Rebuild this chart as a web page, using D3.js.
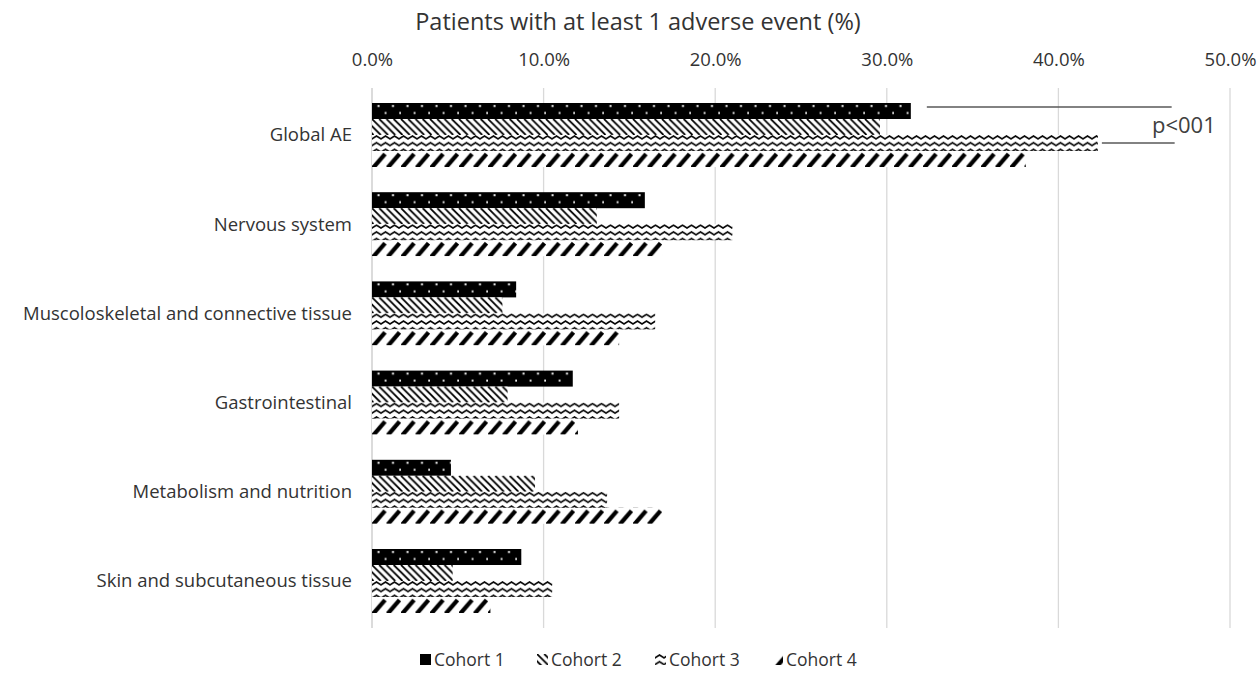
<!DOCTYPE html>
<html>
<head>
<meta charset="utf-8">
<script src="https://cdn.jsdelivr.net/npm/d3@7"></script>
<style>
  html, body { margin: 0; padding: 0; background: #fff; }
  svg { display: block; font-family: "Open Sans", "Noto Sans", sans-serif; }
</style>
</head>
<body>
<svg id="chart" width="1259" height="680"></svg>
<script>
// Adverse events by system organ class, per cohort (% of patients)
const categories = [
  "Global AE",
  "Nervous system",
  "Muscoloskeletal and connective tissue",
  "Gastrointestinal",
  "Metabolism and nutrition",
  "Skin and subcutaneous tissue"
];
const cohorts = ["Cohort 1", "Cohort 2", "Cohort 3", "Cohort 4"];
const cohort1 = [31.4, 15.9, 8.4, 11.7, 4.6, 8.7];
const cohort2 = [29.6, 13.1, 7.6, 7.9, 9.5, 4.7];
const cohort3 = [42.3, 21.0, 16.5, 14.4, 13.7, 10.5];
const cohort4 = [38.1, 16.9, 14.4, 12.0, 16.9, 6.9];
const tickValues = [0, 10, 20, 30, 40, 50];
const axisTitle = "Patients with at least 1 adverse event (%)";
const pLabel = "p<001";

const seriesValues = [cohort1, cohort2, cohort3, cohort4];
const rows = categories.map((c, i) => ({
  category: c,
  values: cohorts.map((k, j) => ({ cohort: k, idx: j, value: seriesValues[j][i] }))
}));

const svg = d3.select("#chart");
const textColor = "#333333";

// ---- scales ----
const x = d3.scaleLinear().domain([0, 50]).range([372, 1230]);
const y = d3.scaleBand().domain(categories).range([90.4, 625.6])
  .paddingInner(0.2825).paddingOuter(0.14125);
const yInner = d3.scaleBand().domain(cohorts).range([0, y.bandwidth()]);
const H = yInner.bandwidth();

// ---- fill patterns, one per cohort (tiles anchored at each bar's top) ----
const defs = svg.append("defs");
const W = 14.5;

// Cohort 1: black with small white dots
const p1 = defs.append("pattern").attr("id", "pat1")
  .attr("patternUnits", "userSpaceOnUse").attr("width", W).attr("height", H);
p1.append("rect").attr("width", W).attr("height", H).attr("fill", "#000");
p1.append("rect").attr("x", 5.5).attr("y", 2).attr("width", 2).attr("height", 2).attr("fill", "#f2f2f2");
p1.append("rect").attr("x", 12.75).attr("y", 9).attr("width", 2).attr("height", 2).attr("fill", "#f2f2f2");

// Cohort 2: downward diagonal hatching
const p2 = defs.append("pattern").attr("id", "pat2")
  .attr("patternUnits", "userSpaceOnUse").attr("width", W).attr("height", H);
p2.append("rect").attr("width", W).attr("height", H).attr("fill", "#fff");
p2.append("path")
  .attr("d", [-2 * W, -1.5 * W, -W, -W / 2, 0, W / 2, W]
    .map(o => `M${o},0 L${o + H},${H}`).join(" "))
  .attr("stroke", "#000").attr("stroke-width", 1.8).attr("fill", "none");

// Cohort 3: horizontal zigzag
const ZW = 9, ZH = 6.7;
const p3 = defs.append("pattern").attr("id", "pat3")
  .attr("patternUnits", "userSpaceOnUse").attr("width", ZW).attr("height", ZH);
p3.append("rect").attr("width", ZW).attr("height", ZH).attr("fill", "#fff");
p3.append("path")
  .attr("d", `M-1,4.6 L${ZW / 2},1 L${ZW + 1},4.6`)
  .attr("stroke", "#000").attr("stroke-width", 1.6).attr("fill", "none");

// Cohort 4: thick upward diagonal slashes
const p4 = defs.append("pattern").attr("id", "pat4")
  .attr("patternUnits", "userSpaceOnUse").attr("width", W).attr("height", H);
p4.append("rect").attr("width", W).attr("height", H).attr("fill", "#fff");
p4.append("path")
  .attr("d", `M1,${H + 1} L13,${3}`)
  .attr("stroke", "#000").attr("stroke-width", 4.2).attr("fill", "none");

const fills = ["url(#pat1)", "url(#pat2)", "url(#pat3)", "url(#pat4)"];

// ---- gridlines ----
svg.append("g").selectAll("line").data(tickValues).join("line")
  .attr("x1", d => x(d)).attr("x2", d => x(d))
  .attr("y1", 88).attr("y2", 628)
  .attr("stroke", d => d === 0 ? "#c8c8c8" : "#d9d9d9")
  .attr("stroke-width", 1.3);

// ---- top axis ----
const axis = svg.append("g").attr("transform", "translate(0,66)")
  .call(d3.axisTop(x).tickValues(tickValues).tickSize(0).tickPadding(0)
    .tickFormat(d => d.toFixed(1) + "%"));
axis.select(".domain").remove();
axis.selectAll("text")
  .attr("font-family", "Open Sans, sans-serif")
  .attr("font-size", 18.5).attr("fill", textColor);

svg.append("text")
  .attr("x", 638).attr("y", 30)
  .attr("text-anchor", "middle")
  .attr("font-size", 23.5).attr("fill", textColor)
  .text(axisTitle);

// ---- bars ----
const groups = svg.append("g").selectAll("g").data(rows).join("g")
  .attr("transform", d => `translate(0,${y(d.category)})`);

groups.selectAll("g").data(d => d.values).join("g")
  .attr("transform", d => `translate(${x(0)},${yInner(d.cohort)})`)
  .append("rect")
  .attr("x", 0).attr("y", 0)
  .attr("width", d => x(d.value) - x(0))
  .attr("height", H)
  .attr("fill", d => fills[d.idx]);

// ---- category labels ----
svg.append("g").selectAll("text").data(categories).join("text")
  .attr("x", 352)
  .attr("y", d => y(d) + y.bandwidth() / 2)
  .attr("dy", "0.35em")
  .attr("text-anchor", "end")
  .attr("font-size", 18.5).attr("fill", textColor)
  .text(d => d);

// ---- significance annotation on Global AE ----
const g0 = rows[0];
const yTop = y(g0.category) + yInner("Cohort 1") + 4;
const yBot = y(g0.category) + yInner("Cohort 3") + 8;
const annEnd = 46.6;
const ann = svg.append("g").attr("stroke", "#595959").attr("stroke-width", 1.5);
ann.append("line")
  .attr("x1", x(g0.values[0].value) + 16).attr("x2", x(annEnd))
  .attr("y1", yTop).attr("y2", yTop);
ann.append("line")
  .attr("x1", x(g0.values[2].value) + 4).attr("x2", x(annEnd) + 3)
  .attr("y1", yBot).attr("y2", yBot);
svg.append("text")
  .attr("x", 1152).attr("y", (yTop + yBot) / 2)
  .attr("dy", "0.35em")
  .attr("font-size", 22).attr("fill", "#404040")
  .text(pLabel);

// ---- legend ----
const legendX = [420, 537, 655, 772];
const legend = svg.append("g").selectAll("g").data(cohorts).join("g")
  .attr("transform", (d, i) => `translate(${legendX[i]},654)`);
legend.append("rect")
  .attr("x", 0).attr("y", 0).attr("width", 11).attr("height", 11)
  .attr("fill", (d, i) => i === 0 ? "#000" : fills[i]);
legend.append("text")
  .attr("x", 14).attr("y", 6).attr("dy", "0.35em")
  .attr("font-size", 17.5).attr("fill", textColor)
  .text(d => d);
</script>
</body>
</html>
